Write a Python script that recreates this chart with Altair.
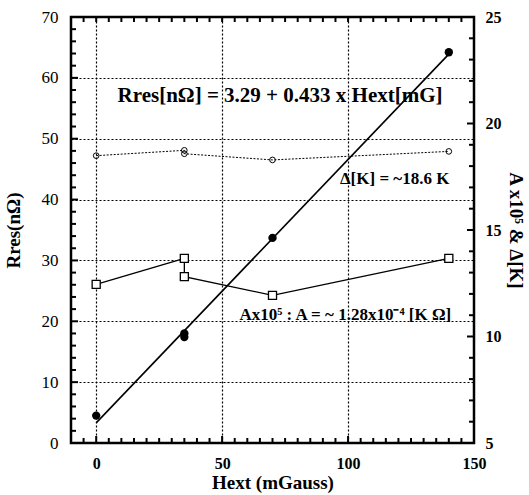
import altair as alt
import pandas as pd

# ---- data ----
hext_r = [0, 35, 35, 70, 140]
rres = [4.5, 18.0, 17.4, 33.7, 64.2]
fit_x = [0, 140]
fit_y = [3.3, 63.9]
hext_d = [0, 35, 35, 70, 140]
delta_k = [18.49, 18.74, 18.58, 18.29, 18.69]
hext_a = [0, 35, 35, 70, 140]
a_x1e5 = [12.45, 13.67, 12.81, 11.93, 13.67]
x_tick_vals = list(range(-5, 151, 5))
yl_tick_vals = list(range(0, 71, 2))
yr_tick_vals = list(range(5, 26, 1))

W, H = 403, 426

df_r = pd.DataFrame({"x": hext_r, "y": rres})
df_fit = pd.DataFrame({"x": fit_x, "y": fit_y})
df_d = pd.DataFrame({"x": hext_d, "y": delta_k, "o": list(range(len(hext_d)))})
df_a = pd.DataFrame({"x": hext_a, "y": a_x1e5, "o": list(range(len(hext_a)))})
df_one = pd.DataFrame({"k": [0]})

df_xt = pd.DataFrame({"v": x_tick_vals})
df_xt["major"] = (df_xt["v"] % 50 == 0).astype(int)
df_ylt = pd.DataFrame({"v": yl_tick_vals})
df_ylt["major"] = (df_ylt["v"] % 10 == 0).astype(int)
df_yrt = pd.DataFrame({"v": yr_tick_vals})
df_yrt["major"] = (df_yrt["v"] % 5 == 0).astype(int)

FONT = "Liberation Serif"
xs = alt.Scale(domain=[-10, 150], nice=False, zero=False)
yls = alt.Scale(domain=[0, 70], nice=False, zero=False)
yrs = alt.Scale(domain=[5, 25], nice=False, zero=False)


def cond(test, a, b):
    return {"condition": {"test": test, "value": a}, "value": b}


x_bottom = alt.Axis(
    orient="bottom", values=x_tick_vals, tickCount=200, format="d", title="Hext  (mGauss)",
    labelExpr="datum.value % 50 === 0 ? datum.label : ''",
    ticks=False, domain=False,
    grid=True, gridColor="black", gridDash=[2, 2], gridWidth=1.2,
    gridOpacity=cond("datum.value % 50 === 0 && datum.value < 150", 1, 0),
    labelFont=FONT, labelFontSize=16, labelFontWeight="bold", labelColor="black",
    labelPadding=12, labelFlush=False, labelOverlap=False,
    titleFont=FONT, titleFontSize=19, titleFontWeight="bold", titleColor="black",
    titlePadding=2,
)
y_left = alt.Axis(
    orient="left", values=yl_tick_vals, tickCount=200, format="d", title="Rres(nΩ)",
    labelExpr="datum.value % 10 === 0 ? datum.label : ''",
    ticks=False, domain=False,
    grid=True, gridColor="black", gridDash=[2, 2], gridWidth=1.2,
    gridOpacity=cond("datum.value % 10 === 0 && datum.value > 0 && datum.value < 70", 1, 0),
    labelFont=FONT, labelFontSize=17, labelColor="black",
    labelPadding=13, labelFlush=False, labelOverlap=False,
    titleFont=FONT, titleFontSize=19, titleFontWeight="bold", titleColor="black",
    titlePadding=18,
)
y_right = alt.Axis(
    orient="right", values=yr_tick_vals, tickCount=200, format="d", title="A x10⁵  &  Δ[K]",
    labelExpr="datum.value % 5 === 0 ? datum.label : ''",
    ticks=False, domain=False, grid=False,
    labelFont=FONT, labelFontSize=16, labelFontWeight="bold", labelColor="black",
    labelPadding=11, labelFlush=False, labelOverlap=False,
    titleFont=FONT, titleFontSize=19, titleFontWeight="bold", titleColor="black",
    titlePadding=4,
)

TICK = dict(color="black", strokeWidth=2, opacity=1)

# ---- left (Rres) group ----
fit_line = alt.Chart(df_fit).mark_line(color="black", strokeWidth=1.6).encode(
    x=alt.X("x:Q", scale=xs, axis=x_bottom),
    y=alt.Y("y:Q", scale=yls, axis=y_left),
)
r_pts = alt.Chart(df_r).mark_point(filled=True, color="black", size=70, opacity=1, shape="circle").encode(
    x=alt.X("x:Q", scale=xs), y=alt.Y("y:Q", scale=yls)
)
eq_txt = alt.Chart(df_one).mark_text(
    text="Rres[nΩ]  =  3.29  +  0.433  x  Hext[mG]", font=FONT, fontSize=21,
    fontWeight="bold", color="black", align="center", baseline="middle"
).encode(x=alt.datum(73), y=alt.datum(57.0))
d_txt = alt.Chart(df_one).mark_text(
    text="Δ[K] = ~18.6 K", font=FONT, fontSize=17, fontWeight="bold",
    color="black", align="center", baseline="middle"
).encode(x=alt.datum(118.5), y=alt.datum(43.3))
a_txt = alt.Chart(df_one).mark_text(
    text="Ax10⁵ : A = ~ 1.28x10⁻⁴ [K Ω]", font=FONT, fontSize=17, fontWeight="bold",
    color="black", align="center", baseline="middle"
).encode(x=alt.datum(98.9), y=alt.datum(21.0))

# inward tick marks, drawn from the tick value lists through the scales
yl_ticks_major = alt.Chart(df_ylt).transform_filter("datum.major == 1").mark_rule(**TICK).encode(
    y=alt.Y("v:Q", scale=yls), x=alt.value(0), x2=alt.value(7))
yl_ticks_minor = alt.Chart(df_ylt).transform_filter("datum.major == 0").mark_rule(**TICK).encode(
    y=alt.Y("v:Q", scale=yls), x=alt.value(0), x2=alt.value(5))
xb_ticks_major = alt.Chart(df_xt).transform_filter("datum.major == 1").mark_rule(**TICK).encode(
    x=alt.X("v:Q", scale=xs), y=alt.value(H), y2=alt.value(H - 7))
xb_ticks_minor = alt.Chart(df_xt).transform_filter("datum.major == 0").mark_rule(**TICK).encode(
    x=alt.X("v:Q", scale=xs), y=alt.value(H), y2=alt.value(H - 5))
xt_ticks = alt.Chart(df_xt).mark_rule(**TICK).encode(
    x=alt.X("v:Q", scale=xs), y=alt.value(0), y2=alt.value(5))

left = alt.layer(fit_line, yl_ticks_major, yl_ticks_minor, xb_ticks_major, xb_ticks_minor,
                 xt_ticks, r_pts, eq_txt, d_txt, a_txt)

# ---- right (A, Delta) group ----
a_line = alt.Chart(df_a).mark_line(color="black", strokeWidth=1.3).encode(
    x=alt.X("x:Q", scale=xs, axis=None),
    y=alt.Y("y:Q", scale=yrs, axis=y_right),
    order="o:Q",
)
a_pts = alt.Chart(df_a).mark_point(shape="square", color="black", fill="white", filled=False,
                                   size=65, strokeWidth=1.3, opacity=1).encode(
    x=alt.X("x:Q", scale=xs), y=alt.Y("y:Q", scale=yrs)
)
d_line = alt.Chart(df_d).mark_line(color="black", strokeWidth=1.0, strokeDash=[2, 1.5]).encode(
    x=alt.X("x:Q", scale=xs), y=alt.Y("y:Q", scale=yrs), order="o:Q"
)
d_pts = alt.Chart(df_d).mark_point(shape="circle", color="black", filled=False,
                                   size=32, strokeWidth=1.0, opacity=1).encode(
    x=alt.X("x:Q", scale=xs), y=alt.Y("y:Q", scale=yrs)
)
yr_ticks_major = alt.Chart(df_yrt).transform_filter("datum.major == 1").mark_rule(**TICK).encode(
    y=alt.Y("v:Q", scale=yrs), x=alt.value(W), x2=alt.value(W - 7))
yr_ticks_minor = alt.Chart(df_yrt).transform_filter("datum.major == 0").mark_rule(**TICK).encode(
    y=alt.Y("v:Q", scale=yrs), x=alt.value(W), x2=alt.value(W - 5))

right = alt.layer(a_line, yr_ticks_major, yr_ticks_minor, a_pts, d_line, d_pts)

chart = (
    alt.layer(left, right)
    .resolve_scale(y="independent")
    .resolve_axis(x="independent", y="independent")
    .properties(width=W, height=H,
                autosize=alt.AutoSizeParams(type="none"),
                padding={"left": 71, "top": 17, "right": 55, "bottom": 52},
                background="white")
    .configure_view(stroke="black", strokeWidth=2.5)
)
chart.save("out.html", embed_options={"renderer": "svg", "actions": False})
